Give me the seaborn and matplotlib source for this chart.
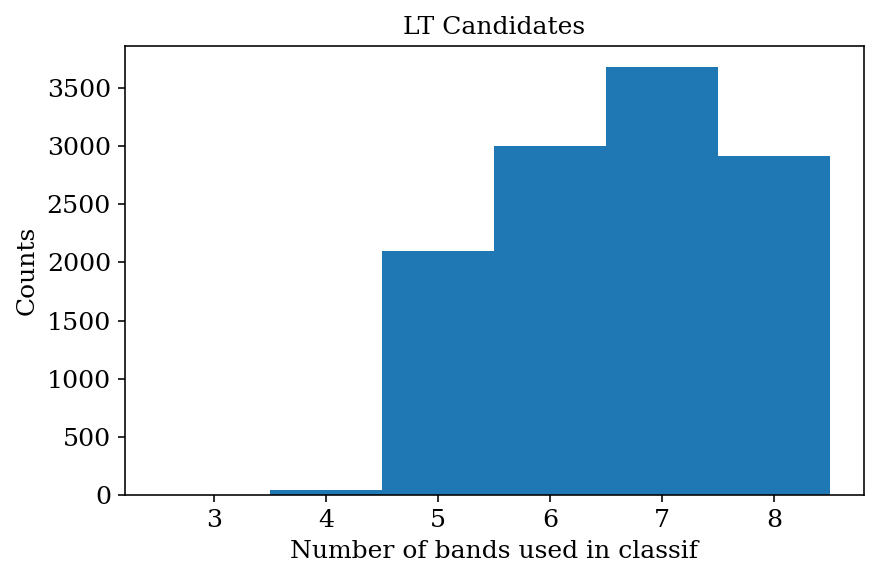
import numpy as np
import pandas as pd
import matplotlib
matplotlib.use("Agg")
import matplotlib.pyplot as plt
import seaborn as sns

# число полос, использованных в классификации, и количество кандидатов
bands = [3, 4, 5, 6, 7, 8]
counts = [1, 40, 2100, 3005, 3680, 2920]

df = pd.DataFrame({"bands": bands, "counts": counts})

plt.rcParams["font.family"] = "DejaVu Serif"
plt.rcParams["font.size"] = 12.6

fig, ax = plt.subplots(figsize=(886 / 144, 582 / 144), dpi=144)
sns.histplot(data=df, x="bands", weights="counts", discrete=True,
             color="#1f77b4", alpha=1, linewidth=0, ax=ax)
ax.set_xlabel("Number of bands used in classif", fontsize=12.5)
ax.set_ylabel("Counts", fontsize=12.5)
ax.set_title("LT Candidates", fontsize=12.5)
ax.set_xticks([3, 4, 5, 6, 7, 8])

plt.subplots_adjust(left=0.141, right=0.975, top=0.921, bottom=0.15)
fig.savefig("out.png", dpi=144)
